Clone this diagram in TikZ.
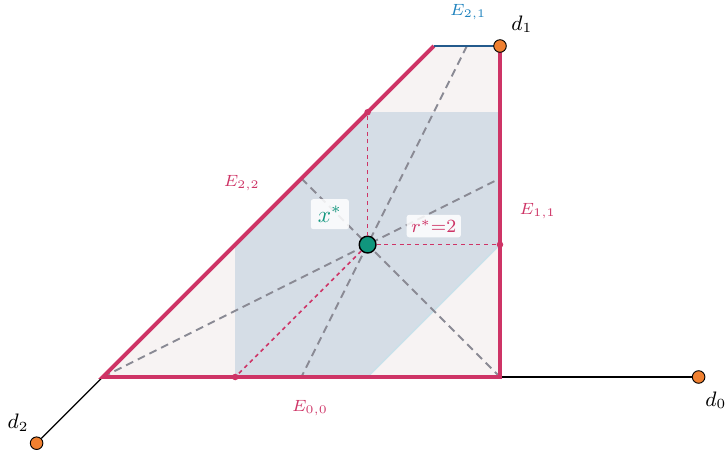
\documentclass[tikz,border=0pt]{standalone}
\usepackage{amsmath,amssymb}
\usetikzlibrary{calc}
\definecolor{edgepink}{RGB}{206,52,102}
\definecolor{edgeblue}{RGB}{35,90,140}
\definecolor{labelblue}{RGB}{30,130,190}
\definecolor{polyfill}{RGB}{247,243,243}
\definecolor{ballfill}{RGB}{213,221,230}
\definecolor{balledge}{RGB}{200,225,234}
\definecolor{guidegray}{RGB}{138,138,148}
\definecolor{dirorange}{RGB}{240,128,48}
\definecolor{centerteal}{RGB}{16,150,125}

\begin{document}
\begin{tikzpicture}[line cap=butt,
 edge/.style={edgepink,line width=1.7pt},
 guide/.style={guidegray,line width=.8pt,dash pattern=on 3.4pt off 2.2pt},
 radiusline/.style={edgepink,line width=.65pt,dash pattern=on 1.7pt off 1.6pt},
 dirdot/.style={circle,fill=dirorange,draw=black,line width=.4pt,inner sep=0pt,minimum size=5.4pt},
 tagbox/.style={fill=white,fill opacity=.85,text opacity=1,rounded corners=1pt,inner sep=2pt}]
\useasboundingbox (-7.553,-1.163) rectangle (3.429,5.695);
\coordinate (vO) at (0,0);
\coordinate (vA) at (0,5);
\coordinate (vB) at (-1,5);
\coordinate (vC) at (-6,0);
\coordinate (tTop) at (-2,4);
\coordinate (tRight) at (0,2);
\coordinate (tBottom) at (-4,0);
% polytope and ball
\fill[polyfill] (vO)--(vA)--(vB)--(vC)--cycle;
\fill[ballfill] (0,2)--(0,4)--(-2,4)--(-4,2)--(-4,0)--(-2,0)--cycle;
\draw[balledge,line width=.6pt] (0,2)--(-2,0);
\foreach \p/\q in {{(-.5,5)}/{(-3,0)},{(-3,3)}/{(0,0)},{(-6,0)}/{(0,3)}}
 \draw[guide] \p--\q;
% directions
\node[dirdot] (dzero) at (3,0) {};
\node[dirdot] (dtwo) at (-7,-1) {};
\draw[black,line width=.55pt] (vO)--(dzero);
\draw[black,line width=.55pt] (vC)--(dtwo);
% facets
\draw[edge] (vB)--(vC)--(vO)--(vA);
\draw[edgeblue,line width=.9pt] (vB)--(vA);
\node[dirdot] (done) at (vA) {};
% center and radii
\node[circle,fill=centerteal,draw=black,line width=.6pt,inner sep=0pt,minimum size=7.2pt] (xstar) at (-2,2) {};
\foreach \t in {tTop,tRight,tBottom}{
 \draw[radiusline] (xstar)--(\t);
 \fill[edgepink] (\t) circle (1.4pt);
}
\node[tagbox,text=centerteal,inner sep=3pt] (lblx) at (-2.57,2.46) {$x^{*}$};
\node[tagbox,text=edgepink,font=\footnotesize] (lblr) at (-1,2.28) {$r^{*}{=}2$};
% labels
\node[text=labelblue,font=\scriptsize] (lblEtwoone) at (-.48,5.51) {$E_{2,1}$};
\node[text=edgepink,font=\scriptsize] (lblEtwotwo) at (-3.9,2.93) {$E_{2,2}$};
\node[text=edgepink,font=\scriptsize] (lblEoneone) at (.57,2.51) {$E_{1,1}$};
\node[text=edgepink,font=\scriptsize] (lblEzero) at (-2.87,-.47) {$E_{0,0}$};
\node[font=\small] (lbldone) at (.33,5.33) {$d_1$};
\node[font=\small] (lbldzero) at (3.26,-.35) {$d_0$};
\node[font=\small] (lbldtwo) at (-7.28,-.69) {$d_2$};
\end{tikzpicture}
\end{document}
